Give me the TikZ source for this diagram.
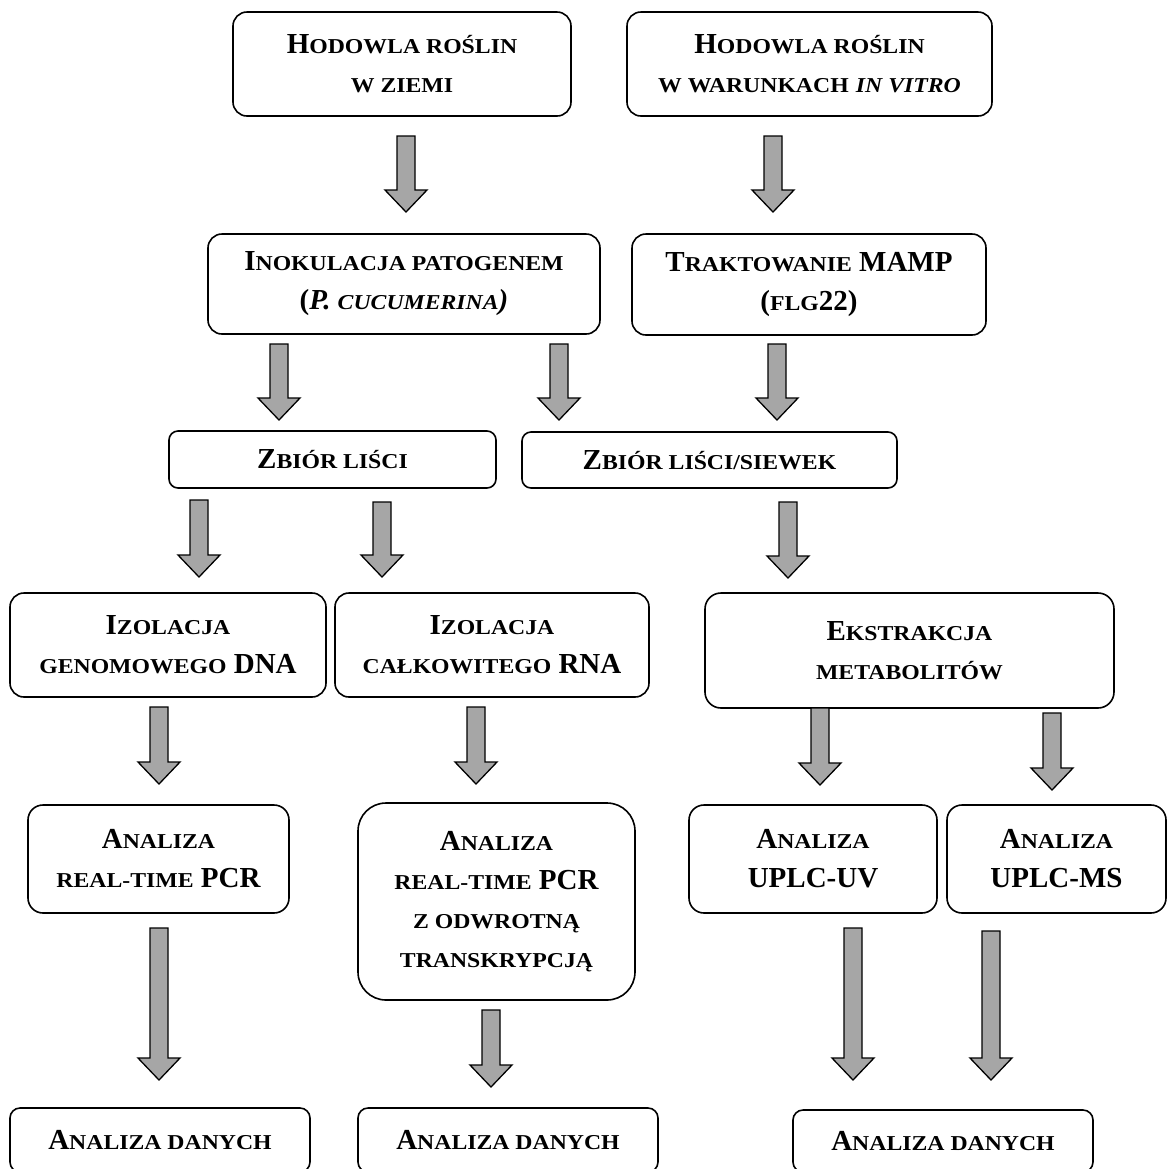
\documentclass[tikz,border=0pt]{standalone}
\usepackage{fontspec}
\setmainfont{Liberation Serif}
\newfontfamily\scfnt[FakeStretch=1.12]{Liberation Serif}
\usetikzlibrary{calc}
\definecolor{arrowgray}{HTML}{A6A6A6}
\newcommand\mysc[1]{{\scfnt\fontsize{10.6}{19.5}\selectfont #1}}
\tikzset{
  box/.style={draw, line width=0.8pt, fill=white, inner sep=0pt, outer sep=0pt,
    align=center, font=\bfseries\fontsize{14.5}{19.5}\selectfont},
  arr/.style={draw, fill=arrowgray, line width=0.65pt, line join=miter}
}
% #1 name, #2 left, #3 top, #4 right, #5 bottom (px), #6 radius, #7 text
\newcommand\bx[7]{\node[box, rounded corners=#6, minimum width={(#4-#2)*0.5pt},
  minimum height={(#5-#3)*0.5pt}] (#1) at ({(#2+#4)/2},{(#3+#5)/2}) {#7};}
% #1 source, #2 target, #3 x (px), #4 top gap (px), #5 tip gap (px)
\newcommand\barrow[5]{%
  \path[arr] let \p1=(#1.south), \p2=(#2.north) in
  ({#3*0.5pt-4.5pt},{\y1-#4*0.5pt}) -- ({#3*0.5pt+4.5pt},{\y1-#4*0.5pt}) --
  ({#3*0.5pt+4.5pt},{\y2+#5*0.5pt+11pt}) -- ({#3*0.5pt+10.5pt},{\y2+#5*0.5pt+11pt}) --
  ({#3*0.5pt},{\y2+#5*0.5pt}) -- ({#3*0.5pt-10.5pt},{\y2+#5*0.5pt+11pt}) --
  ({#3*0.5pt-4.5pt},{\y2+#5*0.5pt+11pt}) -- cycle;}
\begin{document}
\begin{tikzpicture}[x=0.5pt,y=-0.5pt]
\useasboundingbox (0,0) rectangle (1167,1169);
\clip (0,0) rectangle (1167,1169);
\fill[white] (0,0) rectangle (1167,1169);
% row 1
\bx{A}{233}{12}{571}{116}{7pt}{H\mysc{ODOWLA ROŚLIN}\\\mysc{W ZIEMI}}
\bx{B}{627}{12}{992}{116}{7pt}{H\mysc{ODOWLA ROŚLIN}\\\mysc{W WARUNKACH} \textit{\mysc{IN VITRO}}}
% row 2
\bx{C}{208}{234}{600}{334}{7pt}{I\mysc{NOKULACJA PATOGENEM}\\(\textit{P. \mysc{CUCUMERINA})}}
\bx{D}{632}{234}{986}{335}{7pt}{T\mysc{RAKTOWANIE} MAMP\\(\mysc{FLG}22)}
% row 3
\bx{E}{169}{431}{496}{488}{4.5pt}{Z\mysc{BIÓR LIŚCI}}
\bx{F}{522}{432}{897}{488}{4.5pt}{Z\mysc{BIÓR LIŚCI/SIEWEK}}
% row 4
\bx{G}{10}{593}{326}{697}{7pt}{I\mysc{ZOLACJA}\\\mysc{GENOMOWEGO} DNA}
\bx{H}{335}{593}{649}{697}{7pt}{I\mysc{ZOLACJA}\\\mysc{CAŁKOWITEGO} RNA}
\bx{I}{705}{593}{1114}{708}{8pt}{E\mysc{KSTRAKCJA}\\\mysc{METABOLITÓW}}
% row 5
\bx{J}{28}{805}{289}{913}{7.5pt}{A\mysc{NALIZA}\\\mysc{REAL-TIME} PCR}
\bx{K}{358}{803}{635}{1000}{14pt}{A\mysc{NALIZA}\\\mysc{REAL-TIME} PCR\\\mysc{Z ODWROTNĄ}\\\mysc{TRANSKRYPCJĄ}}
\bx{L}{689}{805}{937}{913}{7.5pt}{A\mysc{NALIZA}\\UPLC-UV}
\bx{M}{947}{805}{1166}{913}{7.5pt}{A\mysc{NALIZA}\\UPLC-MS}
% row 6
\bx{N}{10}{1108}{310}{1172}{5pt}{A\mysc{NALIZA DANYCH}}
\bx{O}{358}{1108}{658}{1172}{5pt}{A\mysc{NALIZA DANYCH}}
\bx{P}{793}{1110}{1093}{1172}{5pt}{A\mysc{NALIZA DANYCH}}
% arrows
\barrow{A}{C}{406}{20}{22}
\barrow{B}{D}{773}{20}{22}
\barrow{C}{E}{279}{10}{11}
\barrow{C}{F}{559}{10}{12}
\barrow{D}{F}{777}{9}{12}
\barrow{E}{G}{199}{12}{16}
\barrow{E}{H}{382}{14}{16}
\barrow{F}{I}{788}{14}{15}
\barrow{G}{J}{159}{10}{21}
\barrow{H}{K}{476}{10}{19}
\barrow{I}{L}{820}{0}{20}
\barrow{I}{M}{1052}{5}{15}
\barrow{J}{N}{159}{15}{28}
\barrow{K}{O}{491}{10}{21}
\barrow{L}{P}{853}{15}{30}
\barrow{M}{P}{991}{18}{30}
\end{tikzpicture}
\end{document}
